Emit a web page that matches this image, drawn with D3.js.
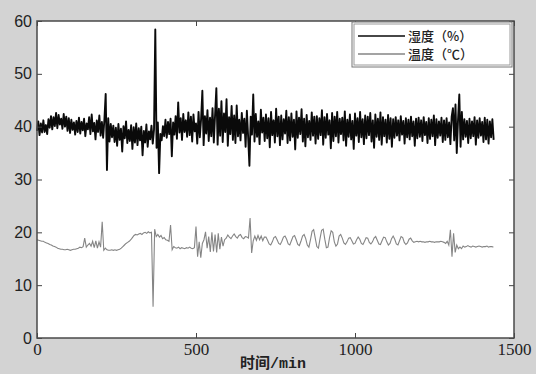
<!DOCTYPE html>
<html>
<head>
<meta charset="utf-8">
<script src="https://cdn.jsdelivr.net/npm/d3@7"></script>
<style>
  body { margin: 0; background: #d3d3d3; }
  svg { display: block; }
  .tick line { stroke: #444; }
</style>
</head>
<body>
<div id="chart"></div>
<script>
// Шаг по времени (мин) для каждого ряда
const humStep = 4;
const tempStep = 5;

// Влажность (%), отсчёт каждые 4 минуты
const humidity = [
  39.2, 41.0, 38.4, 40.6, 38.9, 41.2, 39.0, 40.3, 38.6, 41.4, 39.8, 42.0, 39.5, 41.8, 40.1, 42.6, 39.7, 42.2, 40.4, 41.5,
  39.6, 42.4, 40.0, 41.9, 39.2, 41.6, 38.8, 41.3, 39.4, 40.8, 38.5, 41.1, 39.0, 41.7, 38.7, 40.9, 39.3, 41.5, 38.2, 40.6,
  39.5, 41.8, 38.6, 42.3, 39.1, 40.7, 37.6, 41.2, 39.0, 42.1, 38.3, 40.9, 37.9, 41.4, 46.2, 31.8, 41.6, 37.2, 40.5, 38.0,
  40.2, 37.1, 39.8, 36.4, 40.5, 37.5, 39.6, 35.3, 40.1, 37.8, 41.0, 36.9, 39.4, 37.3, 40.3, 35.8, 39.9, 37.0, 40.6, 36.5,
  39.7, 37.4, 40.0, 34.6, 39.2, 37.0, 40.4, 36.2, 39.1, 37.6, 40.2, 36.8, 39.5, 58.4, 36.0, 40.8, 31.2, 38.6, 37.4, 40.1,
  38.2, 41.3, 37.9, 40.9, 38.6, 41.5, 34.4, 40.8, 38.5, 42.0, 37.7, 44.6, 38.9, 41.6, 37.5, 42.4, 39.0, 41.2, 38.1, 42.7,
  38.4, 41.9, 37.2, 42.3, 39.1, 40.6, 36.8, 42.8, 38.0, 41.4, 46.8, 36.5, 42.0, 38.7, 43.1, 37.3, 41.7, 38.2, 43.5, 37.0,
  42.2, 47.3, 36.6, 43.4, 38.3, 44.8, 37.1, 42.5, 39.0, 45.2, 36.4, 41.8, 38.6, 43.9, 37.5, 42.1, 36.9, 44.0, 38.2, 41.3,
  37.4, 42.6, 38.8, 41.5, 36.2, 43.0, 38.0, 32.6, 41.9, 38.5, 46.1, 37.2, 42.4, 38.1, 41.0, 36.7, 43.2, 38.9, 41.7, 37.3,
  42.3, 37.8, 41.6, 36.1, 42.8, 38.4, 41.2, 37.0, 43.4, 38.2, 41.9, 36.5, 42.1, 37.6, 41.4, 38.7, 43.0, 36.9, 41.8, 37.4,
  42.5, 38.1, 41.3, 35.7, 42.9, 37.9, 41.7, 38.6, 43.3, 37.2, 41.5, 36.3, 42.2, 38.0, 41.1, 37.5, 42.7, 38.3, 41.9, 36.8,
  42.0, 37.7, 41.6, 38.4, 43.1, 36.6, 41.8, 37.9, 42.4, 38.5, 41.2, 35.9, 42.6, 37.3, 41.9, 38.2, 42.8, 37.0, 41.5, 38.6,
  41.7, 37.4, 42.9, 36.4, 41.3, 38.1, 42.3, 37.6, 41.1, 35.8, 42.5, 38.3, 41.6, 37.1, 42.8, 38.0, 41.4, 36.7, 42.1, 37.8,
  41.9, 38.4, 42.6, 37.2, 41.2, 36.0, 42.3, 38.1, 41.5, 37.5, 42.7, 36.6, 41.8, 38.2, 41.3, 37.0, 42.2, 37.7, 41.6, 36.2,
  41.4, 37.9, 41.8, 38.3, 41.2, 37.4, 42.0, 38.5, 41.1, 36.8, 41.6, 38.0, 41.3, 37.6, 41.9, 38.2, 41.0, 36.4, 41.5, 37.8,
  41.7, 38.1, 41.2, 37.3, 41.8, 38.4, 40.9, 36.9, 41.6, 37.7, 41.3, 38.2, 42.1, 36.5, 41.4, 37.9, 41.0, 38.3, 41.7, 37.1,
  41.2, 37.5, 41.6, 38.0, 40.8, 36.7, 41.9, 43.5, 37.4, 44.2, 35.0, 41.3, 46.1, 36.2, 42.8, 37.6, 41.4, 38.1, 41.1, 36.9,
  41.5, 37.8, 41.0, 38.2, 41.8, 36.6, 41.2, 37.9, 41.6, 38.3, 40.9, 37.1, 41.7, 37.6, 41.3, 36.8, 41.0, 38.0, 41.4, 37.5
];

// Температура (°C), отсчёт каждые 5 минут
const temperature = [
  18.6, 18.5, 18.4, 18.3, 18.3, 18.1, 18.0, 17.9, 17.7, 17.6, 17.4, 17.3, 17.2, 17.0, 16.9, 16.8, 16.8, 16.7, 16.7, 16.8, 16.7, 16.6, 16.7, 16.8,
  16.8, 16.9, 17.0, 17.2, 17.1, 17.3, 18.9, 17.2, 17.6, 17.9, 17.4, 18.3, 17.1, 18.4, 17.0, 18.2, 17.2, 22.0, 16.6, 17.0, 16.7, 16.6, 16.6, 16.7,
  16.6, 16.7, 16.6, 16.7, 16.8, 17.0, 17.3, 17.6, 17.9, 18.1, 18.3, 18.6, 19.0, 19.4, 19.6, 19.5, 19.7, 19.8, 19.6, 19.9, 20.0, 19.8, 20.1, 19.9,
  20.0, 5.9, 20.6, 19.2, 19.6, 19.1, 19.4, 18.8, 19.0, 18.6, 18.5, 18.3, 21.4, 16.7, 17.3, 17.1, 17.0, 17.2, 16.9, 17.1, 17.0, 16.9, 17.1, 17.0,
  17.2, 17.0, 16.9, 17.1, 21.1, 15.4, 18.2, 15.2, 17.9, 18.6, 20.1, 17.0, 19.2, 16.3, 20.0, 16.4, 19.6, 16.2, 19.8, 16.8, 19.1, 17.4, 18.6, 18.9,
  19.5, 19.1, 18.8, 19.3, 19.7, 19.2, 18.9, 19.4, 19.6, 19.0, 18.8, 19.2, 19.1, 18.9, 22.7, 16.1, 18.4, 19.3, 18.5, 19.4, 18.6, 19.3, 18.4, 19.1,
  19.1, 18.5, 17.8, 17.6, 18.2, 19.0, 19.2, 18.6, 17.9, 17.7, 18.3, 19.1, 19.3, 18.7, 17.8, 17.6, 18.4, 19.2, 19.4, 18.6, 17.7, 17.5, 18.3, 19.3,
  19.6, 18.8, 17.6, 17.2, 18.6, 20.2, 20.5, 18.9, 17.3, 17.0, 18.8, 20.4, 20.6, 18.7, 17.1, 17.2, 19.0, 20.3, 20.0, 18.2, 17.4, 17.8, 19.3, 19.6,
  18.9, 18.0, 17.7, 18.2, 18.9, 19.0, 18.4, 17.8, 17.9, 18.6, 19.1, 18.7, 17.9, 17.7, 18.3, 19.0, 18.9, 18.1, 17.8, 18.2, 18.9, 19.2, 18.5, 17.8,
  17.7, 18.4, 19.1, 19.0, 18.2, 17.6, 17.9, 18.8, 19.3, 18.7, 17.8, 17.6, 18.4, 19.2, 19.0, 18.1, 17.7, 18.0, 18.7, 18.9, 18.4, 18.1, 18.2, 18.3,
  18.2, 18.3, 18.2, 18.2, 18.1, 18.2, 18.2, 18.3, 18.2, 18.2, 18.1, 18.2, 18.2, 18.2, 18.3, 18.2, 18.1, 17.9, 18.3, 17.6, 20.5, 15.4, 19.8, 16.2,
  17.6, 16.9, 17.2, 16.9, 17.4, 17.2, 17.3, 17.5, 17.3, 17.2, 17.4, 17.3, 17.2, 17.3, 17.4, 17.3, 17.2, 17.3, 17.3, 17.4, 17.2, 17.3, 17.3, 17.2
];

const xTicks = [0, 500, 1000, 1500];
const yTicks = [0, 10, 20, 30, 40, 50, 60];
const legendLabels = ['湿度（%）', '温度（℃）'];
const colors = ['#0a0a0a', '#858585'];

const width = 536;
const height = 374;
const margin = { top: 21, right: 22, bottom: 36, left: 37 };

const svg = d3.select('#chart')
  .append('svg')
  .attr('width', width)
  .attr('height', height);

// Серый фон всей картинки
svg.append('rect')
  .attr('width', width)
  .attr('height', height)
  .attr('fill', '#d3d3d3');

const x = d3.scaleLinear().domain([0, 1500]).range([margin.left, width - margin.right]);
const y = d3.scaleLinear().domain([0, 60]).range([height - margin.bottom, margin.top]);

// Белая область графика
svg.append('rect')
  .attr('x', x(0))
  .attr('y', y(60))
  .attr('width', x(1500) - x(0))
  .attr('height', y(0) - y(60))
  .attr('fill', '#fff');

// Линии рядов
const line = d3.line()
  .x(d => x(d[0]))
  .y(d => y(d[1]));

const series = [
  humidity.map((v, i) => [i * humStep, v]),
  temperature.map((v, i) => [i * tempStep, v])
];

svg.append('path')
  .attr('d', line(series[1]))
  .attr('fill', 'none')
  .attr('stroke', colors[1])
  .attr('stroke-width', 1.1);

// Влажность: плотная "полоса", поэтому линия толще
svg.append('path')
  .attr('d', line(series[0]))
  .attr('fill', 'none')
  .attr('stroke', colors[0])
  .attr('stroke-width', 1.9)
  .attr('stroke-linejoin', 'round');

// Оси: тики внутрь со всех сторон
const noDomain = g => g.select('.domain').remove();

svg.append('g')
  .attr('transform', `translate(${x(0)},0)`)
  .call(d3.axisLeft(y).tickValues(yTicks).tickSize(-5).tickPadding(5))
  .call(noDomain)
  .selectAll('text')
  .attr('font-family', '"Liberation Sans", Arial, sans-serif')
  .attr('font-size', 16)
  .attr('fill', '#222');

svg.append('g')
  .attr('transform', `translate(${x(1500)},0)`)
  .call(d3.axisRight(y).tickValues(yTicks).tickSize(-5).tickFormat(''))
  .call(noDomain);

svg.append('g')
  .attr('transform', `translate(0,${y(0)})`)
  .call(d3.axisBottom(x).tickValues(xTicks).tickSize(-5).tickPadding(5).tickFormat(d3.format('d')))
  .call(noDomain)
  .selectAll('text')
  .attr('font-family', '"Liberation Serif", "Times New Roman", serif')
  .attr('font-size', 17)
  .attr('fill', '#222');

svg.append('g')
  .attr('transform', `translate(0,${y(60)})`)
  .call(d3.axisTop(x).tickValues(xTicks).tickSize(-5).tickFormat(''))
  .call(noDomain);

// Рамка
svg.append('rect')
  .attr('x', x(0))
  .attr('y', y(60))
  .attr('width', x(1500) - x(0))
  .attr('height', y(0) - y(60))
  .attr('fill', 'none')
  .attr('stroke', '#4a4a4a')
  .attr('stroke-width', 1.5);

// Подпись оси X
const xTitle = svg.append('text')
  .attr('x', 273)
  .attr('y', 368)
  .attr('text-anchor', 'middle')
  .attr('fill', '#222')
  .attr('font-size', 15);
xTitle.append('tspan')
  .attr('font-family', '"Noto Sans CJK SC", sans-serif')
  .attr('font-weight', 700)
  .text('时间');
xTitle.append('tspan')
  .attr('font-family', '"Liberation Mono", "DejaVu Sans Mono", monospace')
  .attr('font-weight', 700)
  .text('/min');

// Легенда
const legend = svg.append('g').attr('transform', 'translate(352,22)');
legend.append('rect')
  .attr('width', 160)
  .attr('height', 45)
  .attr('fill', '#fff')
  .attr('stroke', '#777')
  .attr('stroke-width', 1);
legend.append('rect')
  .attr('x', 2)
  .attr('y', 2)
  .attr('width', 156)
  .attr('height', 41)
  .attr('fill', 'none')
  .attr('stroke', '#9a9a9a')
  .attr('stroke-width', 1);

legendLabels.forEach((label, i) => {
  const ly = 14 + i * 18;
  legend.append('line')
    .attr('x1', 6)
    .attr('x2', 53)
    .attr('y1', ly)
    .attr('y2', ly)
    .attr('stroke', colors[i])
    .attr('stroke-width', i === 0 ? 1.6 : 1.4);
  legend.append('text')
    .attr('x', 56)
    .attr('y', ly)
    .attr('dy', '0.36em')
    .attr('font-family', '"Noto Sans CJK SC", sans-serif')
    .attr('font-size', 13)
    .attr('font-weight', 500)
    .attr('fill', '#222')
    .text(label);
});
</script>
</body>
</html>
